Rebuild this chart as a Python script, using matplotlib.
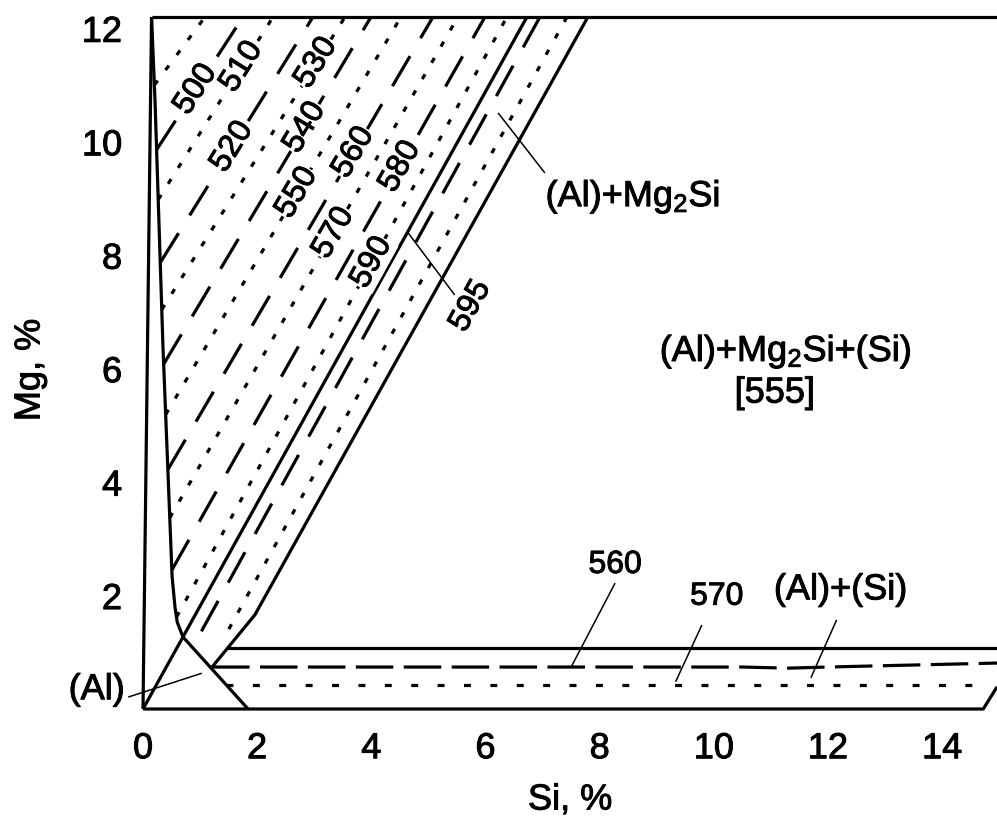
"""Al-Mg-Si section: solidus isotherms in the Al corner."""

import matplotlib

matplotlib.use("Agg")  # headless
import matplotlib.pyplot as plt  # noqa: E402
import matplotlib.patheffects as pe  # noqa: E402
import numpy as np  # noqa: E402

plt.rcParams["font.family"] = ["Liberation Sans", "DejaVu Sans"]
plt.rcParams["mathtext.fontset"] = "custom"
plt.rcParams["mathtext.rm"] = "Liberation Sans"
plt.rcParams["mathtext.it"] = "Liberation Sans:italic"
plt.rcParams["lines.scale_dashes"] = False

MG_TOP = 12.2
SI_MAX = 14.96

# phase boundaries, (Si %, Mg %)
left_edge_si = [0.0, 0.15]
left_edge_mg = [0.0, MG_TOP]
solvus_si = [0.15, 0.21, 0.35, 0.51, 0.56, 0.60, 0.70, 1.84]
solvus_mg = [MG_TOP, 10.74, 6.38, 2.33, 1.80, 1.53, 1.27, 0.0]
diag_si = [0.0, 6.725]
diag_mg = [0.0, MG_TOP]
right_si = [7.793, 1.96, 1.21]
right_mg = [MG_TOP, 1.66, 0.74]
top_si = [0.15, SI_MAX]
top_mg = [MG_TOP, MG_TOP]
bottom_si = [0.0, 14.72, SI_MAX]
bottom_mg = [0.0, 0.0, 0.39]
eut_si = [1.47, SI_MAX]
eut_mg = [1.08, 1.08]

# isotherms in the (Al) field: Si at the top edge, Mg where they meet the solvus
iso_labels = ["", "500", "510", "520", "530", "540", "550", "560", "570", "580", "590"]
iso_top_si = [1.086, 1.751, 2.277, 2.977, 3.538, 3.993, 4.518, 5.079, 5.517, 5.989, 6.375]
iso_end_mg = [11.0, 9.86, 8.98, 7.87, 7.04, 6.08, 5.19, 4.22, 3.37, 2.45, 1.62]
iso_label_mg = [None, 10.92, 11.32, 9.91, 11.39, 10.25, 9.10, 9.81, 8.39, 9.56, 7.87]

# isotherms inside the (Al)+Mg2Si band
band_dash_si = [6.953, 0.87]
band_dash_mg = [MG_TOP, 1.09]
band_dot_si = [7.426, 1.40]
band_dot_mg = [MG_TOP, 1.22]

# isotherms in the (Al)+(Si) strip
h560_si = [1.21, 10.5, 11.3, 12.0, SI_MAX]
h560_mg = [0.74, 0.74, 0.72, 0.74, 0.81]
h570_si = [1.46, 14.6]
h570_mg = [0.42, 0.42]

DASH = (25, 15)
DOT = (4, 9.5)
HDASH = (27, 7.5)
HDOT = (5, 14)
LW = 2.3
THIN = 1.1
BIG = 26
NUM = 23
HEAVY = [pe.withStroke(linewidth=0.7, foreground="black")]

fig = plt.figure(figsize=(9.97, 8.26), dpi=100)
ax = fig.add_axes([143 / 997, 117 / 826, 854 / 997, 692 / 826])
ax.set_xlim(0, SI_MAX)
ax.set_ylim(0, MG_TOP)


def line(xs, ys, dashes=None, lw=LW):
    (ln,) = ax.plot(xs, ys, color="black", lw=lw, clip_on=False,
                    solid_capstyle="butt", dash_capstyle="butt")
    if dashes is not None:
        ln.set_dashes(dashes)
    return ln


def label(x, y, s, size=BIG, **kw):
    return ax.text(x, y, s, fontsize=size, ha="center", va="center",
                   path_effects=HEAVY, **kw)


for xs, ys in [(left_edge_si, left_edge_mg), (solvus_si, solvus_mg),
               (diag_si, diag_mg), (right_si, right_mg), (top_si, top_mg),
               (bottom_si, bottom_mg), (eut_si, eut_mg)]:
    line(xs, ys)


def angle_of(x0, y0, x1, y1):
    p0 = ax.transData.transform((x0, y0))
    p1 = ax.transData.transform((x1, y1))
    return np.degrees(np.arctan2(p1[1] - p0[1], p1[0] - p0[0]))


# solvus as a function of Mg for the line ends
sol_mg_inc = np.array(solvus_mg[::-1])
sol_si_inc = np.array(solvus_si[::-1])

for i, (xt, yb) in enumerate(zip(iso_top_si, iso_end_mg)):
    xb = float(np.interp(yb, sol_mg_inc, sol_si_inc))
    style = DOT if i % 2 == 0 else DASH
    line([xb, xt], [yb, MG_TOP], dashes=style)
    if iso_labels[i]:
        ym = iso_label_mg[i]
        xm = xb + (xt - xb) * (ym - yb) / (MG_TOP - yb)
        label(xm, ym, iso_labels[i], size=NUM,
              rotation=angle_of(xb, yb, xt, MG_TOP), rotation_mode="anchor",
              bbox=dict(facecolor="white", edgecolor="none", pad=0.5))

line(band_dash_si, band_dash_mg, dashes=DASH)
line(band_dot_si, band_dot_mg, dashes=DOT)
line(h560_si, h560_mg, dashes=HDASH)
line(h570_si, h570_mg, dashes=HDOT)

# leaders and field labels
band_rot = angle_of(diag_si[0], diag_mg[0], diag_si[1], diag_mg[1])
line([4.64, 5.46], [8.40, 7.30], lw=THIN)
label(5.74, 7.10, "595", size=NUM, rotation=band_rot, rotation_mode="anchor")

line([6.22, 7.04], [10.51, 9.45], lw=THIN)
label(8.58, 9.03, r"(Al)+Mg$_{\mathrm{2}}$Si")

label(11.26, 6.30, r"(Al)+Mg$_{\mathrm{2}}$Si+(Si)")
label(11.07, 5.57, "[555]")

line([8.27, 7.50], [2.22, 0.74], lw=THIN)
label(8.27, 2.54, "560", size=NUM)
line([9.79, 9.33], [1.48, 0.48], lw=THIN)
label(10.05, 1.98, "570", size=NUM)
line([12.15, 11.70], [1.57, 0.55], lw=THIN)
label(12.22, 2.10, "(Al)+(Si)")

line([-0.26, 1.03], [0.21, 0.63], lw=THIN)
label(-0.81, 0.34, "(Al)")

ax.set_xticks(range(0, 15, 2))
ax.set_yticks(range(2, 13, 2))
ax.tick_params(length=0, labelsize=BIG)
ax.tick_params(axis="x", pad=16)
ax.tick_params(axis="y", pad=15)
for t in ax.get_xticklabels() + ax.get_yticklabels():
    t.set_path_effects(HEAVY)
for s in ax.spines.values():
    s.set_visible(False)

fig.text(570 / 997, 1 - 800 / 826, "Si, %", fontsize=BIG, ha="center",
         va="center", path_effects=HEAVY)
fig.text(30 / 997, 1 - 370 / 826, "Mg, %", fontsize=BIG, ha="center",
         va="center", rotation=90, path_effects=HEAVY)

fig.savefig("out.png", dpi=100)
plt.close(fig)
